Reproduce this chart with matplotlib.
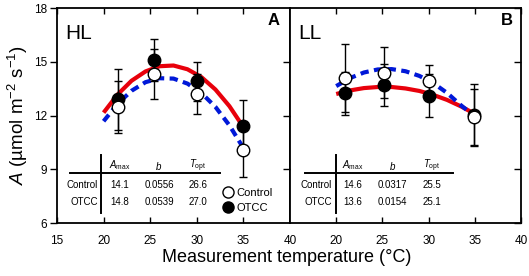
import matplotlib
matplotlib.use("Agg")
import matplotlib.pyplot as plt
from matplotlib.lines import Line2D

plt.rcParams["font.family"] = ["Liberation Sans", "DejaVu Sans"]
plt.rcParams["mathtext.fontset"] = "custom"
plt.rcParams["mathtext.rm"] = "Liberation Sans"
plt.rcParams["mathtext.it"] = "Liberation Sans:italic"

# measured points (temperature, mean, error)
hl_t = [21.5, 25.4, 30.0, 35.0]
hl_ctrl = [12.5, 14.3, 13.2, 10.1]
hl_ctrl_err = [1.45, 1.4, 1.1, 1.55]
hl_otcc = [12.9, 15.1, 13.9, 11.4]
hl_otcc_err = [1.7, 1.15, 1.1, 1.45]

ll_t = [21.0, 25.2, 30.0, 34.9]
ll_ctrl = [14.1, 14.4, 13.95, 11.9]
ll_ctrl_err = [1.9, 1.4, 0.85, 1.6]
ll_otcc = [13.25, 13.7, 13.1, 12.05]
ll_otcc_err = [1.2, 1.15, 1.2, 1.7]

curve_t = [20, 21.5, 23, 24.5, 26, 27.5, 29, 30.5, 32, 33.5, 35]
hl_ctrl_fit = [11.68, 12.65, 13.38, 13.86, 14.08, 14.06, 13.78, 13.25, 12.48, 11.45, 10.18]
hl_otcc_fit = [12.16, 13.17, 13.94, 14.46, 14.75, 14.79, 14.58, 14.14, 13.45, 12.52, 11.35]
ll_ctrl_fit = [13.64, 14.09, 14.40, 14.57, 14.59, 14.47, 14.21, 13.81, 13.26, 12.57, 11.95]
ll_otcc_fit = [13.20, 13.40, 13.53, 13.59, 13.59, 13.51, 13.37, 13.15, 12.87, 12.51, 12.09]

# fit parameter tables
col_heads = ["$A_{\\rm max}$", "$b$", "$T_{\\rm opt}$"]
row_heads = ["Control", "OTCC"]
hl_table = [["14.1", "0.0556", "26.6"], ["14.8", "0.0539", "27.0"]]
ll_table = [["14.6", "0.0317", "25.5"], ["13.6", "0.0154", "25.1"]]

W, H = 529, 276
fig = plt.figure(figsize=(W / 100, H / 100), dpi=100)
axA = fig.add_axes([57 / W, 1 - 223 / H, 233 / W, 215 / H])
axB = fig.add_axes([290 / W, 1 - 223 / H, 231 / W, 215 / H])


def panel(ax, t, c, ce, o, oe, cfit, ofit, table, vx, hx, colx, rowx):
    ax.plot(curve_t, ofit, color="#e8000b", lw=3.0, solid_capstyle="butt", zorder=2)
    ax.plot(curve_t, cfit, color="#0018d8", lw=3.0, ls=(0, (2.0, 1.3)), zorder=3)
    ax.errorbar(t, o, yerr=oe, fmt="o", color="black", mfc="black", mec="black",
                ms=9, ecolor="black", elinewidth=1.0, capsize=3, capthick=1.0, zorder=4)
    ax.errorbar(t, c, yerr=ce, fmt="o", color="black", mfc="white", mec="black",
                ms=9, mew=1.0, ecolor="black", elinewidth=1.0, capsize=3, capthick=1.0, zorder=5)
    ax.set_xlim(15, 40)
    ax.set_ylim(6, 18)
    ax.set_yticks([6, 9, 12, 15, 18])
    for s in ax.spines.values():
        s.set_linewidth(1.3)
    # table
    ax.plot([vx, vx], [0.047, 0.316], color="black", lw=1.4, transform=ax.transAxes, clip_on=False)
    ax.plot([hx[0], hx[1]], [0.233, 0.233], color="black", lw=1.4, transform=ax.transAxes, clip_on=False)
    for x, h in zip(colx, col_heads):
        ax.text(x, 0.267, h, transform=ax.transAxes, ha="center", va="center", fontsize=7)
    for y, name, vals in zip([0.177, 0.098], row_heads, table):
        ax.text(rowx, y, name, transform=ax.transAxes, ha="right", va="center", fontsize=7)
        for x, v in zip(colx, vals):
            ax.text(x, y, v, transform=ax.transAxes, ha="center", va="center", fontsize=7)


panel(axA, hl_t, hl_ctrl, hl_ctrl_err, hl_otcc, hl_otcc_err, hl_ctrl_fit, hl_otcc_fit,
      hl_table, 0.189, (0.056, 0.70), [0.27, 0.438, 0.605], 0.176)
panel(axB, ll_t, ll_ctrl, ll_ctrl_err, ll_otcc, ll_otcc_err, ll_ctrl_fit, ll_otcc_fit,
      ll_table, 0.199, (0.065, 0.706), [0.273, 0.442, 0.615], 0.182)

axA.set_xticks([15, 20, 25, 30, 35, 40])
axB.set_xticks([20, 25, 30, 35, 40])
axA.tick_params(axis="x", direction="in", top=True, length=4, width=1, labelsize=8.5, pad=9)
axA.tick_params(axis="y", direction="out", length=5, width=1, labelsize=8.5, pad=2)
axB.tick_params(axis="x", direction="in", top=True, length=4, width=1, labelsize=8.5, pad=9)
axB.tick_params(axis="y", direction="in", left=False, right=True, labelleft=False, length=5, width=1)

# inward ticks on the right spine of panel A
axA2 = axA.twinx()
axA2.set_ylim(axA.get_ylim())
axA2.set_yticks([9, 12, 15])
axA2.tick_params(axis="y", direction="in", length=5, width=1, labelright=False)
for s in axA2.spines.values():
    s.set_visible(False)

axA.set_ylabel("$A$ (µmol m$^{-2}$ s$^{-1}$)", fontsize=13.5, labelpad=3)
fig.text(287 / W, 1 - 258 / H, "Measurement temperature (°C)", ha="center", va="center", fontsize=13)

axA.text(0.034, 0.88, "HL", transform=axA.transAxes, ha="left", va="center", fontsize=15)
axA.text(0.957, 0.94, "A", transform=axA.transAxes, ha="right", va="center", fontsize=12, fontweight="bold")
axB.text(0.035, 0.88, "LL", transform=axB.transAxes, ha="left", va="center", fontsize=15)
axB.text(0.965, 0.94, "B", transform=axB.transAxes, ha="right", va="center", fontsize=12, fontweight="bold")

handles = [Line2D([], [], ls="none", marker="o", ms=8, mfc="white", mec="black"),
           Line2D([], [], ls="none", marker="o", ms=8, mfc="black", mec="black")]
axA.legend(handles, row_heads, loc="lower left", bbox_to_anchor=(0.67, 0.01), frameon=False,
           fontsize=8, handletextpad=0.2, labelspacing=0.45, borderpad=0.2, handlelength=1.2)

fig.savefig("out.png", dpi=100)
